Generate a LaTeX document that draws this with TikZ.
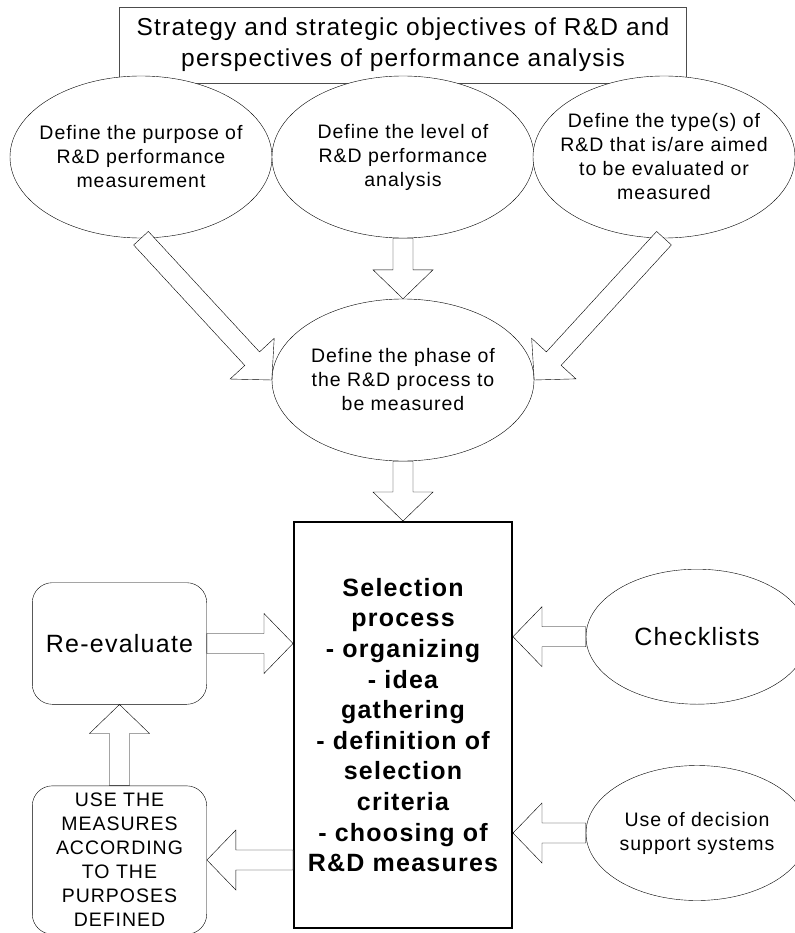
\documentclass[tikz,border=0pt]{standalone}
\usepackage{fontspec}
\setmainfont{Liberation Sans}[LetterSpace=5]
\usetikzlibrary{shapes.geometric}
\usetikzlibrary{calc}
\tikzset{
        goal/.style={draw=black!70, rectangle, minimum width=567pt, minimum height=76pt,
          inner sep=0pt, align=center, font=\fontsize{24.5}{31}\selectfont},
        oval/.style={draw, fill=white, ellipse, minimum width=262pt, minimum height=162pt,
          inner xsep=-20pt, inner ysep=0pt, align=center, font=\fontsize{19.5}{24}\selectfont},
        tool/.style={oval, minimum width=222pt, minimum height=135pt},
        selectbox/.style={draw, line width=2pt, minimum width=218pt, minimum height=406pt,
          align=center, font=\fontsize{25}{30.6}\selectfont\bfseries},
        roundbox/.style={draw, rounded corners=20pt, minimum width=174.4pt, inner sep=0pt, align=center},
        blockarrow/.style={draw, fill=white, line join=miter},
}
% hollow arrow from #1 to #2
\newcommand{\blockarrow}[2]{%
  \coordinate (arrowhead) at ($(#2)!29pt!(#1)$);
  \draw[blockarrow] ($(#1)!10pt!90:(#2)$) -- ($(arrowhead)!10pt!90:(#2)$) -- ($(arrowhead)!30pt!90:(#2)$)
    -- (#2) -- ($(arrowhead)!30pt!-90:(#2)$) -- ($(arrowhead)!10pt!-90:(#2)$) -- ($(#1)!10pt!-90:(#2)$) -- cycle;
}
\begin{document}
\begin{tikzpicture}[x=1pt, y=-1pt]
      \useasboundingbox (0,0) rectangle (794,933);
      % STRATEGY
      \node[goal] (goal) at (403,45) {Strategy and strategic objectives of R\&D and\\perspectives of performance analysis};

      % DEFINITIONS
      \node[oval] (purpose) at (141,157) {Define the purpose of\\R\&D performance\\measurement};
      \node[oval] (level) at (403,157) {Define the level of\\R\&D performance\\analysis};
      \node[oval] (type) at (664,157) {Define the type(s) of\\R\&D that is/are aimed\\to be evaluated or\\measured};
      \node[oval] (phase) at (403,380) {Define the phase of\\the R\&D process to\\be measured};

      % SELECTION PROCESS
      \node[selectbox] (select) at (403,725) {Selection\\process\\- organizing\\- idea\\gathering\\- definition of\\selection\\criteria\\- choosing of\\R\&D measures};

      % LEFT SIDE
      \node[roundbox, minimum height=121.6pt, font=\fontsize{25}{30}\selectfont] (reeval) at (119.5,643.5) {Re-evaluate};
      \node[roundbox, minimum height=148.3pt, font=\fontsize{19.5}{24}\selectfont] (use) at (119.5,860)
        {USE THE\\MEASURES\\ACCORDING\\TO THE\\PURPOSES\\DEFINED};

      % RIGHT SIDE
      \node[tool, font=\fontsize{25}{30}\selectfont] (check) at (697,636.7) {Checklists};
      \node[tool] (dss) at (697,833) {Use of decision\\support systems};

      % ARROWS
      \blockarrow{purpose.south}{phase.west}
      \blockarrow{level.south}{phase.north}
      \blockarrow{type.south}{phase.east}
      \blockarrow{phase.south}{select.north}
      \coordinate (reevaltip) at (select.west |- reeval.east);
      \blockarrow{reeval.east}{reevaltip}
      \coordinate (checktip) at (select.east |- check.west);
      \blockarrow{check.west}{checktip}
      \coordinate (dsstip) at (select.east |- dss.west);
      \blockarrow{dss.west}{dsstip}
      \coordinate (usetail) at (select.west |- use.east);
      \blockarrow{usetail}{use.east}
      \blockarrow{use.north}{reeval.south}
\end{tikzpicture}
\end{document}
